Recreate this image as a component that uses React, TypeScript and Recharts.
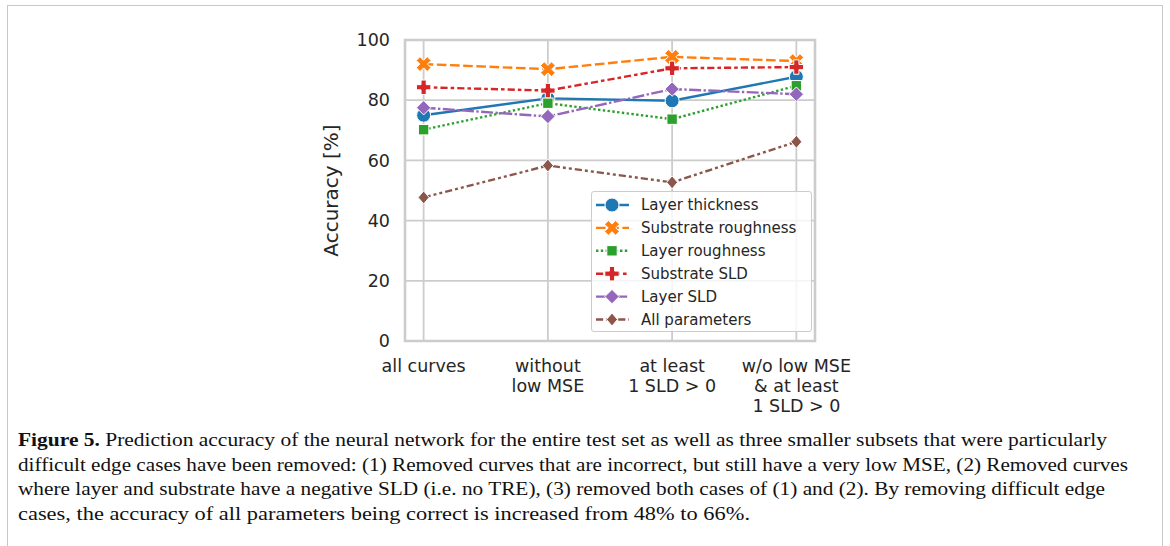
import React from 'react';
import { LineChart, Line, XAxis, YAxis, CartesianGrid, ReferenceArea } from 'recharts';

const categories = ['all curves', 'without\nlow MSE', 'at least\n1 SLD > 0', 'w/o low MSE\n& at least\n1 SLD > 0'];
const layerThickness = [75, 80.6, 79.8, 87.8];
const substrateRoughness = [92, 90.3, 94.4, 93];
const layerRoughness = [70.2, 79, 73.7, 84.8];
const substrateSLD = [84.3, 83.2, 90.6, 91];
const layerSLD = [77.5, 74.6, 83.7, 82];
const allParameters = [47.7, 58.3, 52.7, 66.2];
const yTicks = [0, 20, 40, 60, 80, 100];

const captionLines = [
  'Prediction accuracy of the neural network for the entire test set as well as three smaller subsets that were particularly',
  'difficult edge cases have been removed: (1) Removed curves that are incorrect, but still have a very low MSE, (2) Removed curves',
  'where layer and substrate have a negative SLD (i.e. no TRE), (3) removed both cases of (1) and (2). By removing difficult edge',
  'cases, the accuracy of all parameters being correct is increased from 48% to 66%.',
];

const data = categories.map((c, i) => ({
  idx: i,
  lt: layerThickness[i],
  sr: substrateRoughness[i],
  lr: layerRoughness[i],
  ss: substrateSLD[i],
  ls: layerSLD[i],
  ap: allParameters[i],
}));

const LW = 2.4;
const series = [
  { key: 'lt', name: 'Layer thickness', color: '#1f77b4', dash: undefined, shape: 'circle' },
  { key: 'sr', name: 'Substrate roughness', color: '#ff7f0e', dash: '9.6 3.6', shape: 'x' },
  { key: 'lr', name: 'Layer roughness', color: '#2ca02c', dash: '2.4 2.4', shape: 'square' },
  { key: 'ss', name: 'Substrate SLD', color: '#d62728', dash: '7.2 3 3.6 3', shape: 'plus' },
  { key: 'ls', name: 'Layer SLD', color: '#9467bd', dash: '12 2.4 2.4 2.4', shape: 'diamond' },
  { key: 'ap', name: 'All parameters', color: '#8c564b', dash: '7.2 3 3 3 3 3', shape: 'thin' },
];

const FONT = '"DejaVu Sans", sans-serif';
const TEXT = '#262626';
const GRID = '#cccccc';

function plusPts(cx: number, cy: number, a: number, b: number, rot: number) {
  const pts = [
    [-b, -a], [b, -a], [b, -b], [a, -b], [a, b], [b, b], [b, a], [-b, a], [-b, b], [-a, b], [-a, -b], [-b, -b],
  ];
  const c = Math.cos(rot), s = Math.sin(rot);
  return pts.map(([x, y]) => `${cx + x * c - y * s},${cy + x * s + y * c}`).join(' ');
}

function Marker({ shape, cx, cy, color }: { shape: string; cx: number; cy: number; color: string }) {
  const common = { fill: color, stroke: '#ffffff', strokeWidth: 1 };
  switch (shape) {
    case 'circle':
      return <circle cx={cx} cy={cy} r={7} {...common} />;
    case 'x':
      return <polygon points={plusPts(cx, cy, 7.8, 2.7, Math.PI / 4)} {...common} />;
    case 'square':
      return <rect x={cx - 5.2} y={cy - 5.2} width={10.4} height={10.4} {...common} />;
    case 'plus':
      return <polygon points={plusPts(cx, cy, 7.2, 2.6, 0)} {...common} />;
    case 'diamond':
      return <polygon points={`${cx},${cy - 7.2} ${cx + 7.2},${cy} ${cx},${cy + 7.2} ${cx - 7.2},${cy}`} {...common} />;
    default:
      return <polygon points={`${cx},${cy - 6.5} ${cx + 5.5},${cy} ${cx},${cy + 6.5} ${cx - 5.5},${cy}`} {...common} />;
  }
}

function XTick(props: any) {
  const { x, y, payload } = props;
  const label = categories[payload.value] ?? '';
  const lines = label.split('\n');
  return (
    <text x={x} y={y + 31} textAnchor="middle" fill={TEXT} fontSize={17.5} fontFamily={FONT}>
      {lines.map((l: string, i: number) => (
        <tspan key={i} x={x} dy={i === 0 ? 0 : 20}>{l}</tspan>
      ))}
    </text>
  );
}

function LegendBox() {
  return (
    <div
      style={{
        position: 'absolute',
        left: 591,
        top: 191,
        width: 221,
        height: 141,
        boxSizing: 'border-box',
        border: '1px solid #cccccc',
        borderRadius: 3,
        background: 'rgba(255,255,255,0.8)',
        zIndex: 5,
      }}
    >
      <svg width={221} height={141} style={{ position: 'absolute', left: -1, top: -1 }}>
        {series.map((s, i) => {
          const y = 14 + i * 22.9;
          return (
            <g key={s.key}>
              <line x1={5} x2={38} y1={y} y2={y} stroke={s.color} strokeWidth={LW} strokeDasharray={s.dash} />
              <Marker shape={s.shape} cx={21} cy={y} color={s.color} />
              <text x={50} y={y} dy="0.36em" fontSize={15} fontFamily={FONT} fill={TEXT}>
                {s.name}
              </text>
            </g>
          );
        })}
      </svg>
    </div>
  );
}

export default function App() {
  return (
    <div style={{ position: 'absolute', left: 0, top: 0, width: 1170, height: 546, background: '#ffffff', overflow: 'hidden' }}>
      <div
        style={{
          position: 'absolute',
          left: 7,
          top: 5,
          width: 1156,
          height: 600,
          boxSizing: 'border-box',
          border: '1.5px solid #c8c8c8',
        }}
      />
      <div style={{ position: 'absolute', left: 0, top: 0 }}>
        <LineChart
          width={1170}
          height={430}
          data={data}
          margin={{ top: 40, right: 355, bottom: 10, left: 257 }}
        >
          <CartesianGrid stroke={GRID} strokeWidth={1.8} />
          <XAxis
            dataKey="idx"
            type="number"
            domain={[-0.15, 3.15]}
            ticks={[0, 1, 2, 3]}
            allowDataOverflow
            axisLine={false}
            tickLine={false}
            tickSize={0}
            tickMargin={0}
            height={79}
            tick={<XTick />}
            interval={0}
          />
          <YAxis
            domain={[0, 100]}
            ticks={yTicks}
            axisLine={false}
            tickLine={false}
            tickSize={0}
            tickMargin={15}
            width={148}
            tick={{ fill: TEXT, fontSize: 17.5, fontFamily: FONT }}
            label={{
              value: 'Accuracy [%]',
              angle: -90,
              position: 'center',
              fill: TEXT,
              fontSize: 20,
              fontFamily: FONT,
            }}
          />
          <ReferenceArea
            x1={-0.15}
            x2={3.15}
            y1={0}
            y2={100}
            fill="none"
            fillOpacity={0}
            stroke={GRID}
            strokeWidth={2.6}
            ifOverflow="visible"
          />
          {series.map((s) => (
            <Line
              key={s.key}
              dataKey={s.key}
              name={s.name}
              stroke={s.color}
              strokeWidth={LW}
              strokeDasharray={s.dash}
              isAnimationActive={false}
              dot={(p: any) => <Marker key={`${s.key}-${p.index}`} shape={s.shape} cx={p.cx} cy={p.cy} color={s.color} />}
              activeDot={false}
            />
          ))}
        </LineChart>
      </div>
      <LegendBox />
      <svg width={1170} height={546} style={{ position: 'absolute', left: 0, top: 0, pointerEvents: 'none' }}>
        {captionLines.map((l, i) => {
          const y = 446 + i * 24.7;
          const lens = [1089, 1110, 1087, 732];
          return (
            <text
              key={i}
              x={18}
              y={y}
              fontFamily='"Liberation Serif", serif'
              fontSize={18}
              fill="#111111"
              textLength={lens[i]}
              lengthAdjust="spacingAndGlyphs"
            >
              {i === 0 ? (
                <>
                  <tspan fontWeight="bold">Figure 5.</tspan>
                  <tspan> {l}</tspan>
                </>
              ) : (
                l
              )}
            </text>
          );
        })}
      </svg>
    </div>
  );
}
